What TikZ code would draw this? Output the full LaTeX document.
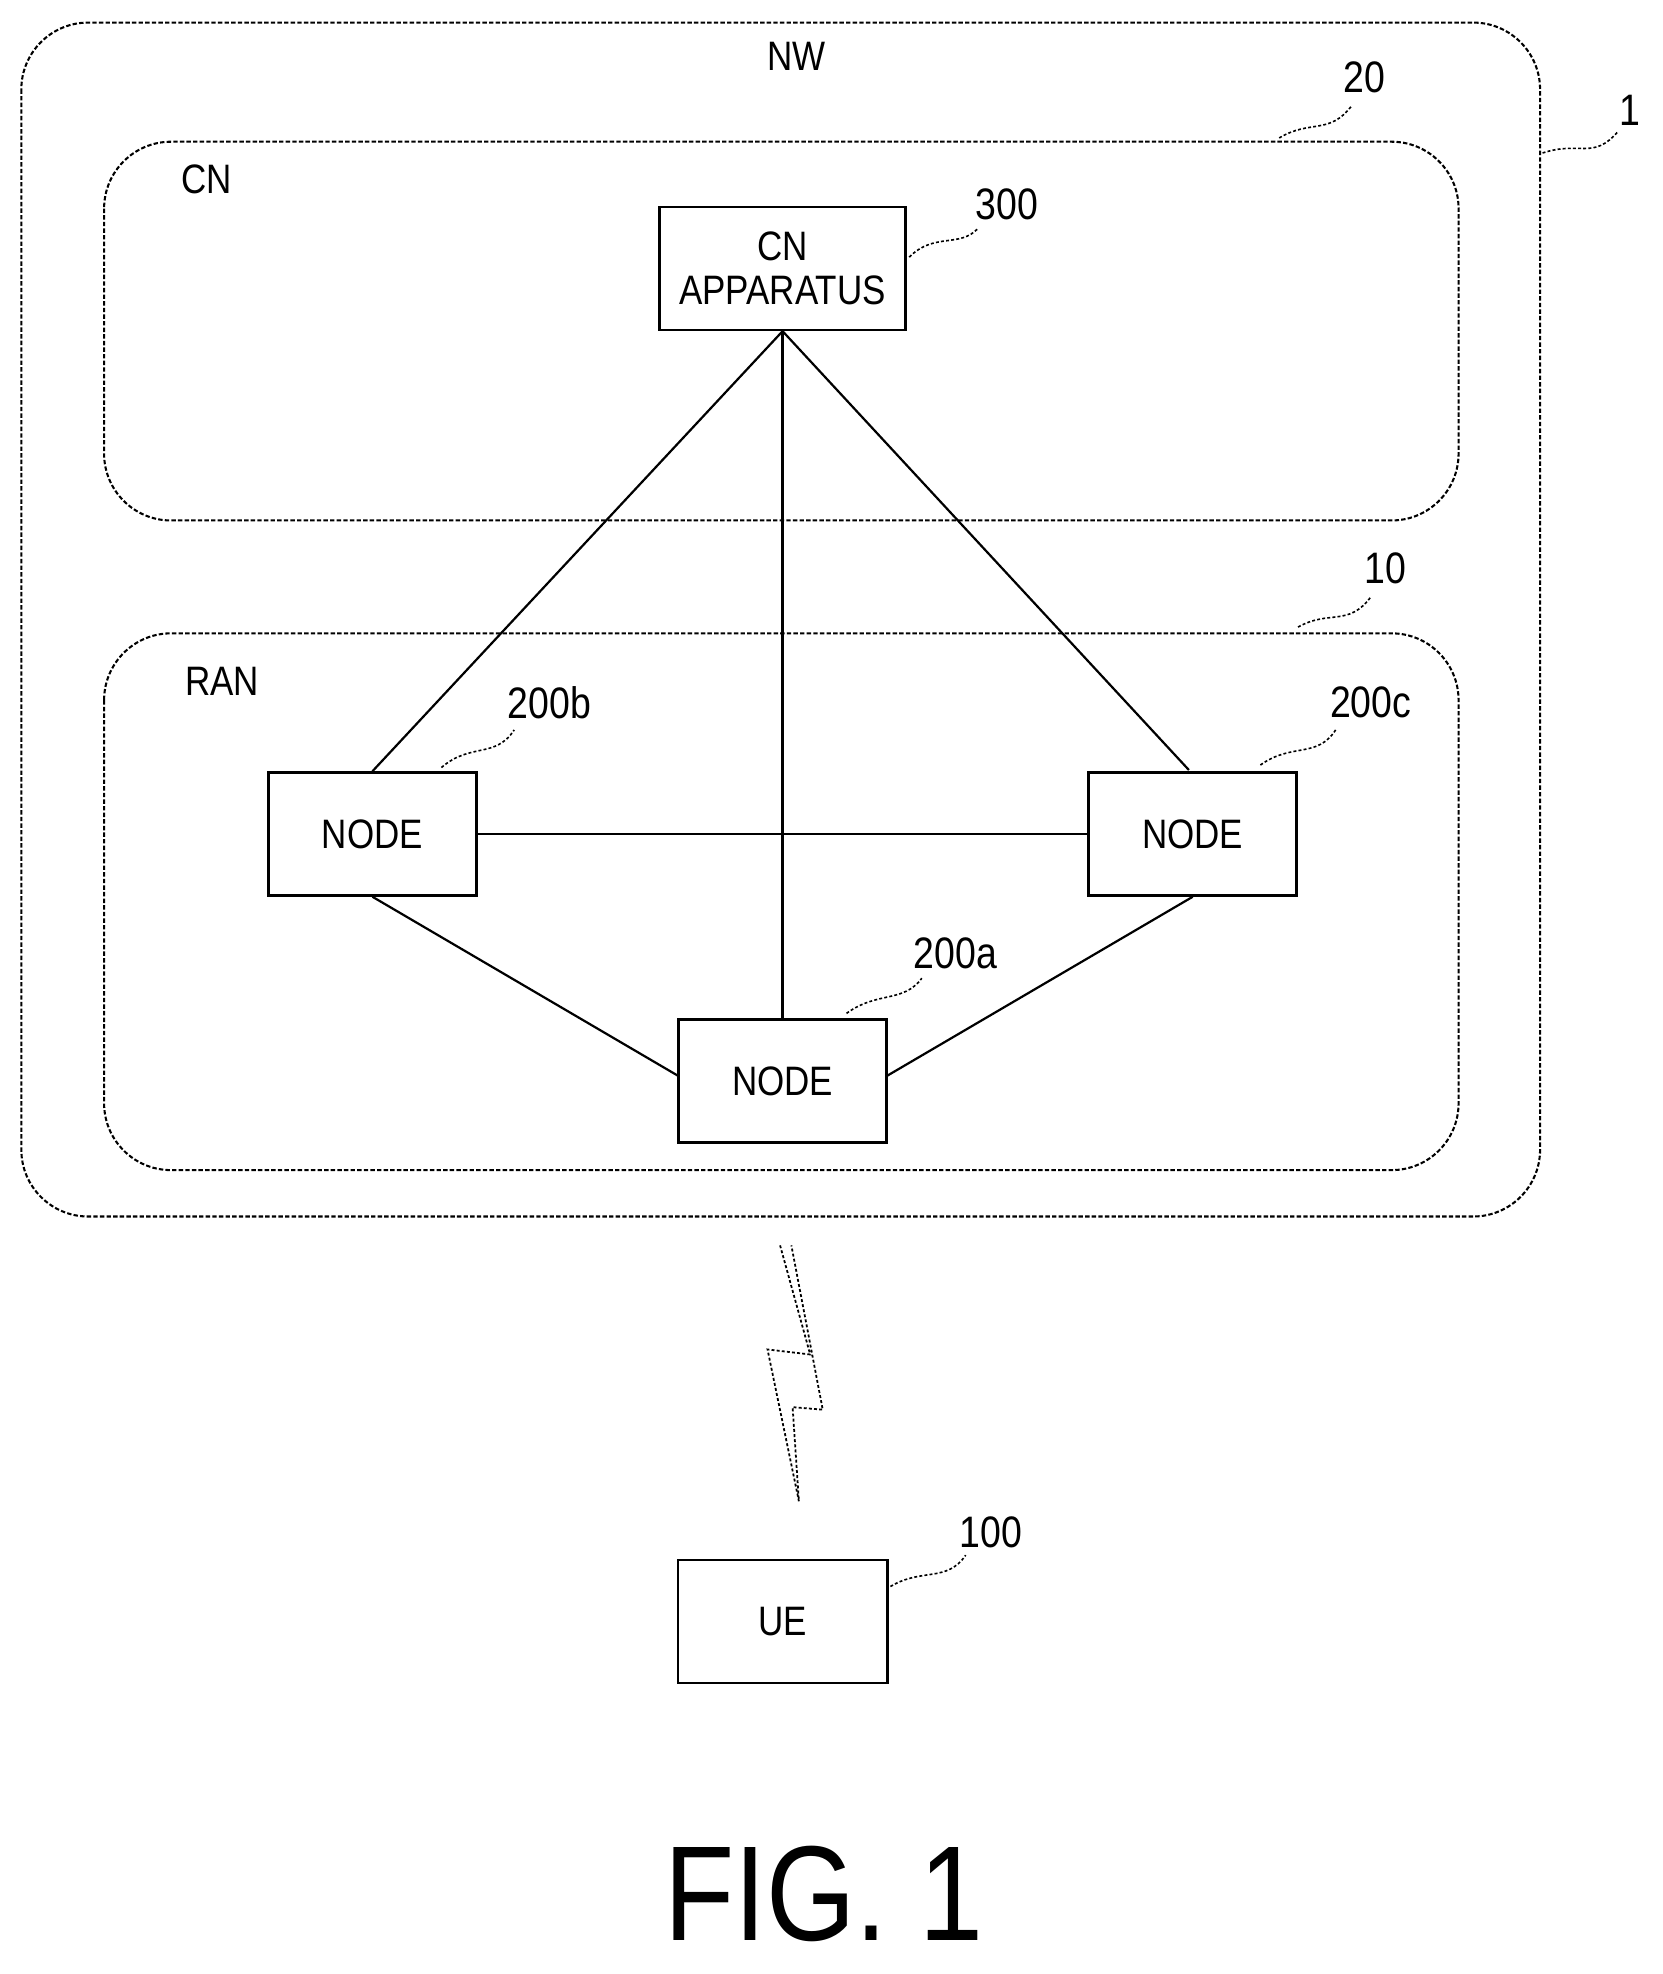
\documentclass[tikz,border=0pt]{standalone}
\usepackage{fontspec}
\setmainfont[FakeStretch=0.85]{Liberation Sans}
\begin{document}
\begin{tikzpicture}[x=0.03cm,y=-0.03cm,
 region/.style={draw,dash pattern=on 3pt off 1.5pt,line width=1.4pt,rounded corners=1.6cm},
 box/.style={draw,line width=1.8pt,font=\fontsize{28}{32}\selectfont,align=center,inner sep=0},
 lbl/.style={font=\fontsize{28}{32}\selectfont},
 ref/.style={font=\fontsize{30}{34}\selectfont},
 sq/.style={dash pattern=on 2pt off 1.5pt,line width=1.1pt},
 link/.style={line width=1.5pt}]
\useasboundingbox (0,0) rectangle (1326,1574);
\draw[region] (17,18) rectangle (1228,970);
\draw[region] (83,113) rectangle (1163,415);
\draw[region] (83,505) rectangle (1163,933);
\node[lbl] (nw) at (635,45) {NW};
\node[lbl] (cn) at (165,143) {CN};
\node[lbl] (ran) at (177,543) {RAN};
\node[box,minimum width=196*0.03cm,minimum height=98*0.03cm] (cnap) at (624,214) {CN\\[-2pt]APPARATUS};
\node[box,minimum width=166*0.03cm,minimum height=98*0.03cm] (nb) at (297,665) {NODE};
\node[box,minimum width=166*0.03cm,minimum height=98*0.03cm] (nc) at (951,665) {NODE};
\node[box,minimum width=166*0.03cm,minimum height=98*0.03cm] (na) at (624,862) {NODE};
\node[box,minimum width=167*0.03cm,minimum height=98*0.03cm] (ue) at (624,1293) {UE};
\draw[link] (cnap.south) -- (nb.north);
\draw[link] (cnap.south) -- (948,614);
\draw[link] (cnap.south) -- (na.north);
\draw[link] (nb.east) -- (nc.west);
\draw[link] (nb.south) -- (541,858);
\draw[link] (nc.south) -- (707,858);
\node[ref] (r1) at (1300,88) {1};
\node[ref] (r20) at (1088,62) {20};
\node[ref] (r10) at (1105,453) {10};
\node[ref] (r300) at (803,163) {300};
\node[ref] (r200b) at (438,560) {200b};
\node[ref] (r200c) at (1093,560) {200c};
\node[ref] (r200a) at (762,760) {200a};
\node[ref] (r100) at (790,1222) {100};
\draw[sq] (1230,122) .. controls (1260,112) and (1270,128) .. (1290,105);
\draw[sq] (1020,110) .. controls (1045,95) and (1060,108) .. (1078,84);
\draw[sq] (1035,500) .. controls (1060,486) and (1075,500) .. (1093,476);
\draw[sq] (725,205) .. controls (745,185) and (765,198) .. (780,182);
\draw[sq] (352,612) .. controls (375,592) and (395,605) .. (410,582);
\draw[sq] (1005,610) .. controls (1030,592) and (1050,605) .. (1065,582);
\draw[sq] (675,808) .. controls (700,790) and (720,800) .. (735,780);
\draw[sq] (710,1265) .. controls (735,1250) and (755,1262) .. (770,1240);
\draw[sq,line width=1.2pt] (622,993) -- (646,1080) -- (612,1076) -- (637,1197) -- (632,1122) -- (656,1124) -- (631,993);
\node[font=\fontsize{92}{100}\selectfont] (fig) at (657,1510) {FIG. 1};
\end{tikzpicture}
\end{document}
